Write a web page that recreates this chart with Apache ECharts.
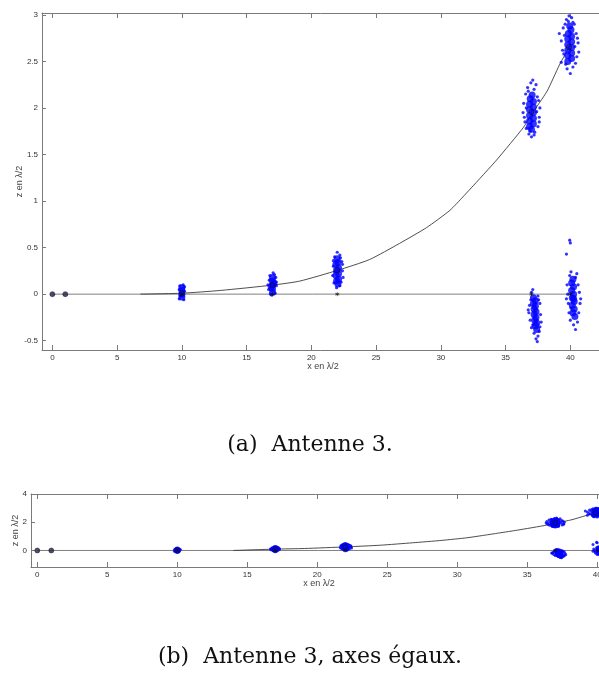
<!DOCTYPE html>
<html>
<head>
<meta charset="utf-8">
<script src="https://cdn.jsdelivr.net/npm/echarts@6/dist/echarts.min.js"></script>
<style>
html,body{margin:0;padding:0;background:#fff;}
#c{width:599px;height:678px;}
</style>
</head>
<body>
<div id="c"></div>
<script>
// ---- tick labels ----
const xTicks = [0, 5, 10, 15, 20, 25, 30, 35, 40];
const zTicksA = [-0.5, 0, 0.5, 1, 1.5, 2, 2.5, 3];
const zTicksB = [0, 2, 4];

// ---- reference antennas, true positions, estimated positions ----
const refAntennas = [[0, 0], [1, 0]];
const truePos = [[10, 0], [17, 0], [22, 0], [37, 0], [40, 0]];
const estPos = [[10, 0.01], [17, 0.097], [22, 0.257], [37, 1.956], [39.9, 2.655]];

// ---- lines ----
const baseLine = [[0, 0], [40.2, 0]];
const curve = [[6.8, 0], [10, 0.01], [13, 0.04], [17, 0.097], [19.1, 0.14], [22.05, 0.257],
  [24.5, 0.372], [26.8, 0.544], [28.9, 0.715], [30.7, 0.9], [31.7, 1.044], [33, 1.24],
  [34.3, 1.44], [36.4, 1.795], [37, 1.93], [38.2, 2.18], [39.15, 2.46], [39.9, 2.65]];
const curveStartB = 14;

// ---- estimation clouds: dense cores ----
const core10 = [[10, 0], [10, 0.04], [10, -0.03], [10, 0.07]];
const core17 = [[17, 0.02], [17, 0.06], [17, 0.1], [17, 0.14], [17, 0.18], [16.9, 0.08], [17.1, 0.12]];
const core22 = [[21.95, 0.14], [22.1, 0.16], [21.9, 0.2], [22.1, 0.22], [21.95, 0.26], [22.1, 0.28],
  [21.9, 0.32], [22.05, 0.34], [22, 0.38], [22.05, 0.11]];
const core37a = [[36.85, 1.8], [37.15, 1.83], [36.85, 1.86], [37.15, 1.89], [36.85, 1.92], [37.15, 1.95],
  [36.85, 1.98], [37.15, 2.01], [36.85, 2.04], [37.15, 2.07], [36.9, 2.1], [37.05, 2.14], [37, 1.77]];
const core40a = [[39.8, 2.5], [40.1, 2.53], [39.8, 2.56], [40.1, 2.59], [39.8, 2.62], [40.1, 2.65],
  [39.8, 2.68], [40.1, 2.71], [39.8, 2.74], [40.1, 2.77], [39.85, 2.8], [40.05, 2.84], [39.95, 2.88]];
const core37b = [[37.15, -0.04], [37.3, -0.07], [37.15, -0.1], [37.3, -0.13], [37.2, -0.16], [37.35, -0.19],
  [37.2, -0.22], [37.35, -0.25], [37.25, -0.28], [37.4, -0.31], [37.3, -0.34], [37.4, -0.38]];
const core40b = [[40.1, 0.12], [40.25, 0.08], [40.1, 0.04], [40.25, 0], [40.15, -0.04], [40.3, -0.08],
  [40.15, -0.12], [40.3, -0.16], [40.2, -0.2], [40.35, -0.24], [40.25, -0.05], [40.2, 0.16]];

// ---- estimation clouds: scattered points ----
const pts10 = [[9.8, -0.05], [10.2, 0.08], [9.85, 0.09], [10.15, -0.06], [10.1, 0.1], [9.9, -0.02], [10.2, 0.03], [9.8, 0.05]];
const pts17 = [[16.7, 0.05], [17.3, 0.09], [16.75, 0.15], [17.25, 0.18], [16.8, 0.2], [17.05, 0.23], [16.95, -0.01],
  [17.2, 0.01], [17.3, 0.13], [16.65, 0.1], [17.15, 0.21], [16.85, 0]];
const pts22 = [[21.65, 0.2], [22.4, 0.25], [21.7, 0.3], [22.45, 0.18], [21.75, 0.12], [22.35, 0.35], [21.8, 0.4],
  [22.2, 0.42], [22, 0.45], [21.95, 0.07], [22.2, 0.09], [21.7, 0.36], [22.4, 0.32], [22.3, 0.13], [21.8, 0.24], [22.25, 0.39]];
const pts37a = [[36.35, 1.95], [36.4, 2.05], [37.6, 1.9], [37.65, 2], [36.5, 1.85], [37.5, 1.8], [36.55, 2.15],
  [37.45, 2.12], [36.7, 2.22], [37.2, 2.2], [36.95, 2.27], [37.1, 2.3], [36.8, 1.72], [37.25, 1.74], [37, 1.69],
  [36.6, 1.78], [37.55, 2.08], [36.45, 1.9], [37.35, 2.25], [36.75, 2.18], [37.6, 1.85], [36.6, 2], [37.4, 1.96],
  [36.9, 1.75], [37.2, 1.71]];
const pts40a = [[39.15, 2.8], [39.3, 2.72], [39.3, 2.49], [39.4, 2.62], [40.6, 2.7], [40.65, 2.6], [40.5, 2.55],
  [40.45, 2.8], [39.6, 2.9], [40.3, 2.9], [39.7, 2.95], [39.9, 2.99], [40.1, 2.97], [39.75, 2.42], [40, 2.37],
  [40.2, 2.44], [39.5, 2.58], [40.4, 2.48], [39.55, 2.78], [40.35, 2.66], [39.45, 2.86], [40.55, 2.75],
  [39.85, 2.93], [40.2, 2.92], [39.65, 2.47]];
const pts37b = [[37.1, 0.05], [37, 0.02], [37.5, -0.02], [36.85, -0.12], [36.8, -0.2], [37.65, -0.1], [37.7, -0.22],
  [36.9, -0.28], [37.75, -0.3], [37, -0.36], [37.6, -0.4], [37.2, -0.42], [37.5, -0.45], [37.35, -0.48],
  [37.45, -0.51], [37.55, -0.06], [36.95, -0.06], [37.65, -0.35], [37.1, -0.33], [36.75, -0.17]];
const pts40b = [[39.95, 0.58], [40, 0.55], [39.7, 0.43], [40.05, 0.24], [39.95, 0.2], [40.4, 0.18], [39.75, 0.1],
  [40.6, 0.1], [39.8, 0], [40.7, 0.02], [39.85, -0.1], [40.75, -0.1], [39.9, -0.2], [40.65, -0.2], [40, -0.28],
  [40.55, -0.3], [40.25, -0.33], [40.4, -0.38], [40.8, -0.05], [39.7, -0.05], [40.5, 0.22], [40.05, -0.15]];

const cores = [].concat(core10, core17, core22, core37a, core40a, core37b, core40b);
const spread = [].concat(pts10, pts17, pts22, pts37a, pts40a, pts37b, pts40b);
const curveB = [[curveStartB, 0]].concat(curve.filter(p => p[0] > curveStartB));

const AX = '#7a7a7a';
const LBL = { color: '#333', fontSize: 8, fontFamily: 'Liberation Sans, Arial, sans-serif' };
const NAME = { color: '#444', fontSize: 9, fontFamily: 'Liberation Sans, Arial, sans-serif' };
const asterisk = 'path://M5,0L5,10M0.7,2.5L9.3,7.5M0.7,7.5L9.3,2.5';

function xAx(grid, min, max, pos, gap) {
  return {
    type: 'value', gridIndex: grid, min: min, max: max, position: pos,
    name: pos === 'bottom' ? 'x en λ/2' : '', nameLocation: 'middle', nameGap: gap,
    nameMoveOverlap: false,
    nameTextStyle: NAME,
    axisLine: { show: true, onZero: false, lineStyle: { color: AX, width: 1 } },
    axisTick: { show: true, inside: true, length: 5, customValues: xTicks, lineStyle: { color: AX } },
    axisLabel: Object.assign({ show: pos === 'bottom', margin: 4, customValues: xTicks, hideOverlap: false }, LBL),
    splitLine: { show: false }
  };
}
function yAx(grid, min, max, ticks, gap) {
  return {
    type: 'value', gridIndex: grid, min: min, max: max,
    name: 'z en λ/2', nameLocation: 'middle', nameGap: gap, nameRotate: 90,
    nameMoveOverlap: false,
    nameTextStyle: NAME,
    axisLine: { show: true, onZero: false, lineStyle: { color: AX, width: 1 } },
    axisTick: { show: true, inside: true, length: 4, customValues: ticks, lineStyle: { color: AX } },
    axisLabel: Object.assign({ margin: 4, customValues: ticks, formatter: v => String(v), hideOverlap: false }, LBL),
    splitLine: { show: false }
  };
}

function seriesFor(i, coreSize, ptSize, mk, crv) {
  return [
    { type: 'line', xAxisIndex: 2 * i, yAxisIndex: i, data: baseLine, symbol: 'none',
      lineStyle: { color: '#808080', width: 1 }, silent: true, z: 1 },
    { type: 'line', xAxisIndex: 2 * i, yAxisIndex: i, data: crv, symbol: 'none', smooth: 0.2,
      lineStyle: { color: '#3a3a3a', width: 0.9 }, silent: true, z: 2 },
    { type: 'scatter', xAxisIndex: 2 * i, yAxisIndex: i, data: cores, symbol: 'circle', symbolSize: coreSize,
      itemStyle: { color: '#0000ff' }, silent: true, z: 3 },
    { type: 'scatter', xAxisIndex: 2 * i, yAxisIndex: i, data: spread, symbol: 'circle', symbolSize: ptSize,
      itemStyle: { color: '#0000ff' }, silent: true, z: 3 },
    { type: 'scatter', xAxisIndex: 2 * i, yAxisIndex: i, data: estPos, symbol: 'circle', symbolSize: mk,
      itemStyle: { color: 'rgba(0,0,0,0)', borderColor: '#111', borderWidth: 0.8 }, silent: true, z: 4 },
    { type: 'scatter', xAxisIndex: 2 * i, yAxisIndex: i, data: truePos, symbol: asterisk, symbolSize: mk - 1,
      itemStyle: { color: 'rgba(0,0,0,0)', borderColor: '#111', borderWidth: 0.8 }, silent: true, z: 4 },
    { type: 'scatter', xAxisIndex: 2 * i, yAxisIndex: i, data: refAntennas, symbol: 'circle', symbolSize: mk,
      itemStyle: { color: '#22224a', borderColor: '#111', borderWidth: 0.6 }, silent: true, z: 4 }
  ];
}

const chart = echarts.init(document.getElementById('c'));
chart.setOption({
  animation: false,
  backgroundColor: '#fff',
  grid: [
    { left: 42, top: 13, width: 562, height: 337, outerBoundsMode: 'none', containLabel: false },
    { left: 31, top: 494, width: 576, height: 73, outerBoundsMode: 'none', containLabel: false }
  ],
  xAxis: [
    xAx(0, -0.8, 42.6, 'bottom', 12),
    xAx(0, -0.8, 42.6, 'top', 0),
    xAx(1, -0.45, 40.7, 'bottom', 12),
    xAx(1, -0.45, 40.7, 'top', 0)
  ],
  yAxis: [
    yAx(0, -0.6, 3.02, zTicksA, 18),
    yAx(1, -1.17, 4, zTicksB, 11)
  ],
  series: [].concat(seriesFor(0, 7, 3.2, 5, curve), seriesFor(1, 6, 3, 5, curveB)),
  graphic: [
    { type: 'text', x: 310, y: 445, silent: true,
      style: { text: '(a)  Antenne 3.', fill: '#111', textAlign: 'center', textVerticalAlign: 'middle',
        font: '22px "DejaVu Serif", serif' } },
    { type: 'text', x: 310, y: 657, silent: true,
      style: { text: '(b)  Antenne 3, axes égaux.', fill: '#111', textAlign: 'center', textVerticalAlign: 'middle',
        font: '22px "DejaVu Serif", serif' } }
  ]
});
</script>
</body>
</html>
